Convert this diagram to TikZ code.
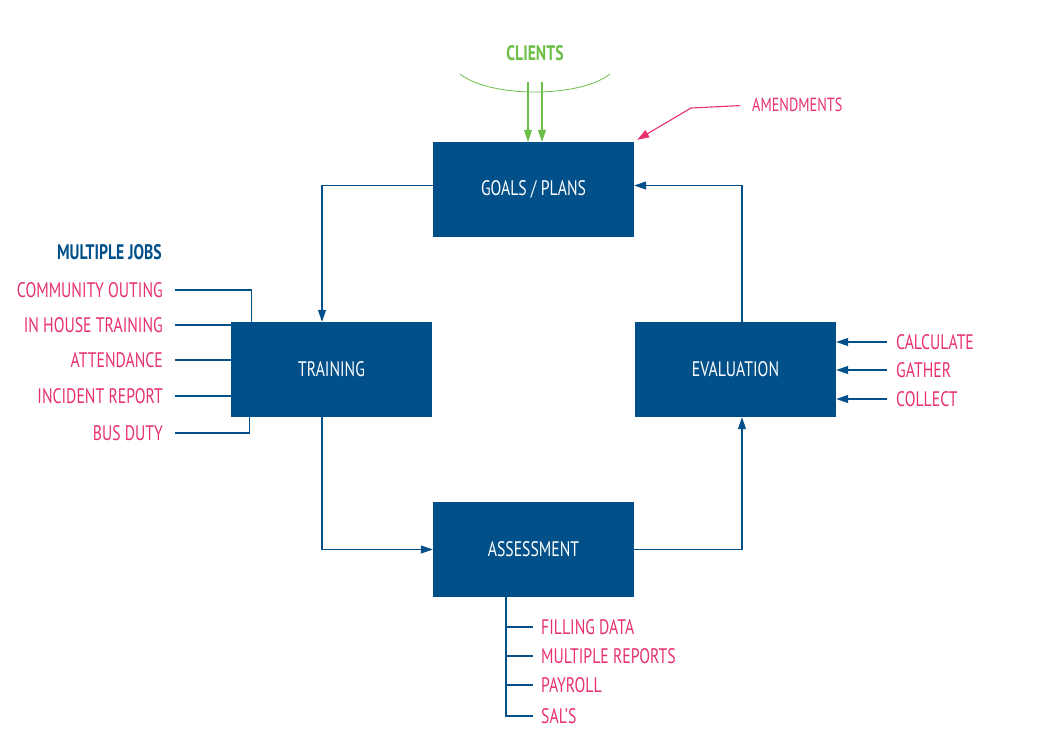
\documentclass[tikz,border=0pt]{standalone}
\usepackage{fontspec}
\setmainfont{PT Sans}[FakeStretch=0.75]
\usetikzlibrary{arrows.meta,positioning}
\definecolor{navy}{RGB}{2,80,137}
\definecolor{rose}{RGB}{232,48,112}
\definecolor{leaf}{RGB}{108,190,72}
\begin{document}
\begin{tikzpicture}[x=1pt,y=-1pt,
		box/.style={rectangle, fill=navy, text=white, minimum width=201pt, minimum height=95pt, font=\fontsize{21}{24}\selectfont},
		item/.style={text=rose, inner sep=0pt, font=\fontsize{21}{24}\selectfont},
		head/.style={inner sep=0pt, font=\fontsize{21}{24}\selectfont\bfseries},
		link/.style={draw=navy, line width=1.1pt},
		flow/.style={link, -{Triangle[length=12pt,width=8pt]}}]
	\useasboundingbox (0,0) rectangle (1058,753);
	% boxes
	\node[box](goals) at (533.5,189.5){GOALS / PLANS};
	\node[box](training) at (331.5,369.5){TRAINING};
	\node[box](evaluation) at (735.5,369.5){EVALUATION};
	\node[box](assessment) at (533.5,549.5){ASSESSMENT};
	% cycle
	\draw[flow] ([yshift=4pt]goals.west) -| (training.north -| 322,0);
	\draw[flow] (training.south -| 322,0) |- (assessment.west);
	\draw[flow] (assessment.east) -| (evaluation.south -| 742,0);
	\draw[flow] (evaluation.north -| 742,0) |- ([yshift=4pt]goals.east);
	% clients
	\node[head, text=leaf](clients) at (535,53){CLIENTS};
	\draw[leaf, line width=0.8pt] (460,74) .. controls (490,98) and (580,98) .. (610,74);
	\coordinate (cl1) at (528,82);
	\coordinate (cl2) at (542,82);
	\draw[leaf, line width=1.1pt, -{Triangle[length=12pt,width=8pt]}] (cl1) -- (cl1 |- goals.north);
	\draw[leaf, line width=1.1pt, -{Triangle[length=12pt,width=8pt]}] (cl2) -- (cl2 |- goals.north);
	% amendments
	\node[item, anchor=west, font=\fontsize{19}{22}\selectfont](amend) at (752,105){AMENDMENTS};
	\draw[rose, line width=1.1pt, shorten <=12pt, -{Triangle[length=12pt,width=8pt]}] (amend.west) -- (691,108) -- ([xshift=3pt,yshift=2pt]goals.north east);
	% multiple jobs
	\node[head, text=navy, anchor=east](jobs) at (162,252){MULTIPLE JOBS};
	\node[item, anchor=east](outing) at (163,290){COMMUNITY OUTING};
	\node[item, anchor=east](house) at (163,325){IN HOUSE TRAINING};
	\node[item, anchor=east](attend) at (163,360){ATTENDANCE};
	\node[item, anchor=east](incident) at (163,396){INCIDENT REPORT};
	\node[item, anchor=east](bus) at (163,433){BUS DUTY};
	\draw[link, shorten <=12pt] (outing.east) -| ([xshift=21pt]training.north west);
	\draw[link, shorten <=12pt] (house.east) -- (house.east -| training.west);
	\draw[link, shorten <=12pt] (attend.east) -- (attend.east -| training.west);
	\draw[link, shorten <=12pt] (incident.east) -- (incident.east -| training.west);
	\draw[link, shorten <=12pt] (bus.east) -| ([xshift=19pt]training.south west);
	% evaluation inputs
	\node[item, anchor=west](calc) at (896,342){CALCULATE};
	\node[item, anchor=west](gather) at (896,370){GATHER};
	\node[item, anchor=west](collect) at (896,399){COLLECT};
	\draw[flow, shorten <=9pt] (calc.west) -- (calc.west -| evaluation.east);
	\draw[flow, shorten <=9pt] (gather.west) -- (gather.west -| evaluation.east);
	\draw[flow, shorten <=9pt] (collect.west) -- (collect.west -| evaluation.east);
	% assessment outputs
	\node[item, anchor=west](filling) at (541,627){FILLING DATA};
	\node[item, anchor=west](reports) at (541,656){MULTIPLE REPORTS};
	\node[item, anchor=west](payroll) at (541,685){PAYROLL};
	\node[item, anchor=west](sals) at (541,716){SAL'S};
	\coordinate (spine) at ([xshift=-27.5pt]assessment.south);
	\draw[link, shorten >=8pt] (spine) |- (sals.west);
	\draw[link, shorten <=8pt] (filling.west) -- (filling.west -| spine);
	\draw[link, shorten <=8pt] (reports.west) -- (reports.west -| spine);
	\draw[link, shorten <=8pt] (payroll.west) -- (payroll.west -| spine);
\end{tikzpicture}
\end{document}
